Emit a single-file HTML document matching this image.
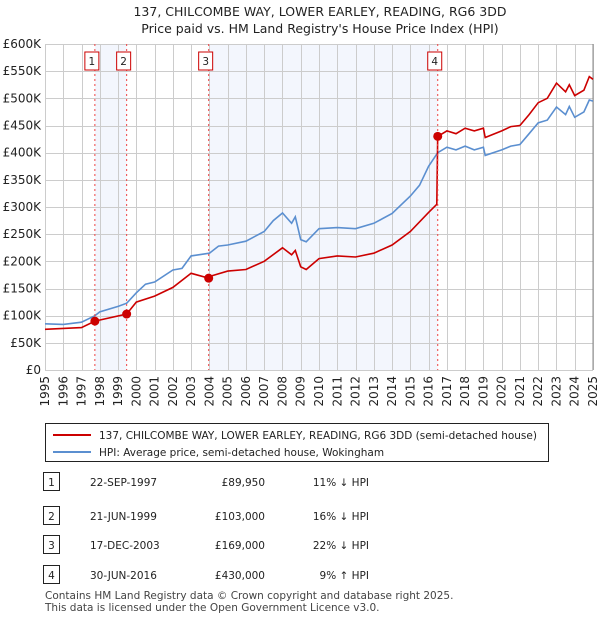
<!DOCTYPE html>
<html><head><meta charset="utf-8"><style>
body{margin:0;background:#fff;font-family:"Liberation Sans","DejaVu Sans",sans-serif;}
</style></head><body>
<svg id="c" width="600" height="620" xmlns="http://www.w3.org/2000/svg" font-family="DejaVu Sans, Liberation Sans, sans-serif">
<text x="320" y="16" text-anchor="middle" font-size="12.5" fill="#222">137, CHILCOMBE WAY, LOWER EARLEY, READING, RG6 3DD</text>
<text x="320" y="33" text-anchor="middle" font-size="12.5" fill="#222">Price paid vs. HM Land Registry's House Price Index (HPI)</text>
<g id="shade"></g><g id="grid"></g><g id="axes"></g><g id="lines"></g><g id="marks"></g>
<g>
<rect x="45.5" y="423.5" width="503" height="38" fill="#fff" stroke="#222"/>
<line x1="53" y1="435" x2="91" y2="435" stroke="#cc0000" stroke-width="2"/>
<text x="99" y="439" font-size="10.5" fill="#222">137, CHILCOMBE WAY, LOWER EARLEY, READING, RG6 3DD (semi-detached house)</text>
<line x1="53" y1="452" x2="91" y2="452" stroke="#5b8fd0" stroke-width="2"/>
<text x="99" y="456" font-size="10.5" fill="#222">HPI: Average price, semi-detached house, Wokingham</text>
</g>
<g id="table" font-size="10.5" fill="#222"></g>
<text x="45" y="599" font-size="10.5" fill="#444">Contains HM Land Registry data © Crown copyright and database right 2025.</text>
<text x="45" y="611" font-size="10.5" fill="#444">This data is licensed under the Open Government Licence v3.0.</text>
</svg>
<script>
const hpiYears=[1995,1996,1997,1997.73,1998,1999,1999.47,2000,2000.5,2001,2002,2002.5,2003,2004,2004.5,2005,2006,2007,2007.5,2008,2008.5,2008.7,2009,2009.3,2010,2011,2012,2013,2014,2015,2015.5,2016,2016.5,2017,2017.5,2018,2018.5,2019,2019.1,2020,2020.5,2021,2021.5,2022,2022.5,2023,2023.5,2023.7,2024,2024.5,2024.8,2025];
const hpiValues=[85000,84000,88000,100000,107000,117000,123000,142000,158000,162000,184000,187000,210000,215000,228000,230000,237000,255000,275000,289000,270000,282000,240000,236000,260000,262000,260000,270000,288000,320000,340000,375000,400000,410000,405000,412000,405000,410000,395000,405000,412000,415000,435000,455000,460000,484000,470000,485000,465000,475000,497000,495000];
const priceYears=[1995,1997,1997.73,1999.47,2000,2001,2002,2003,2003.96,2004,2005,2006,2007,2008,2008.5,2008.7,2009,2009.3,2010,2011,2012,2013,2014,2015,2016,2016.45,2016.5,2017,2017.5,2018,2018.5,2019,2019.1,2020,2020.5,2021,2021.5,2022,2022.5,2023,2023.5,2023.7,2024,2024.5,2024.8,2025];
const priceValues=[75000,78000,90000,103000,125000,136000,152000,178000,169000,172000,182000,185000,200000,225000,212000,220000,190000,185000,205000,210000,208000,215000,230000,255000,290000,305000,430000,440000,435000,445000,440000,445000,428000,440000,448000,450000,470000,492000,500000,528000,512000,525000,505000,515000,540000,535000];
const saleLabels=["1","2","3","4"];
const saleYears=[1997.73,1999.47,2003.96,2016.5];
const salePrices=[89950,103000,169000,430000];
const saleDates=["22-SEP-1997","21-JUN-1999","17-DEC-2003","30-JUN-2016"];
const salePriceText=["£89,950","£103,000","£169,000","£430,000"];
const saleHpiText=["11% ↓ HPI","16% ↓ HPI","22% ↓ HPI","9% ↑ HPI"];
const yTicks=[0,50000,100000,150000,200000,250000,300000,350000,400000,450000,500000,550000,600000];
const yTickLabels=["£0","£50K","£100K","£150K","£200K","£250K","£300K","£350K","£400K","£450K","£500K","£550K","£600K"];
const xTicks=[1995,1996,1997,1998,1999,2000,2001,2002,2003,2004,2005,2006,2007,2008,2009,2010,2011,2012,2013,2014,2015,2016,2017,2018,2019,2020,2021,2022,2023,2024,2025];

const X0=45,X1=593,Y0=370,Y1=44;
const sx=y=>X0+(y-1995)/30*(X1-X0);
const sy=v=>Y0-v/600000*(Y0-Y1);
const NS="http://www.w3.org/2000/svg";
function mk(p,tag,at){const e=document.createElementNS(NS,tag);for(const k in at)e.setAttribute(k,at[k]);document.getElementById(p).appendChild(e);return e;}

for(let i=0;i<saleYears.length;i+=2){
  const r=mk('shade','rect',{x:sx(saleYears[i]),y:Y1,width:sx(saleYears[i+1])-sx(saleYears[i]),height:Y0-Y1,fill:'#f3f6fd'});
  
  
}
yTicks.forEach((v,i)=>{
  const yy=Math.round(sy(v))+0.5;
  const l=mk('grid','line',{x1:X0,x2:X1,y1:yy,y2:yy,stroke:'#cccccc','stroke-width':1});
  
  
  const t=mk('axes','text',{x:X0-4,y:sy(v)+4,'text-anchor':'end','font-size':12,fill:'#222'});
  t.textContent=yTickLabels[i];
  
  
});
xTicks.forEach(y=>{
  const xx=Math.round(sx(y))+0.5;
  const l=mk('grid','line',{x1:xx,x2:xx,y1:Y1,y2:Y0,stroke:'#cccccc','stroke-width':1});
  
  
  const t=mk('axes','text',{x:0,y:0,transform:`translate(${sx(y)+4},${Y0+6}) rotate(-90)`,'text-anchor':'end','font-size':12,fill:'#222'});
  t.textContent=y;
  
  
});
const ax=mk('axes','line',{x1:X1,x2:X1,y1:Y1,y2:Y0,stroke:'#888'});



function path(xs,vs){return xs.map((x,i)=>(i?'L':'M')+sx(x).toFixed(1)+','+sy(vs[i]).toFixed(1)).join('');}
const h=mk('lines','path',{d:path(hpiYears,hpiValues),fill:'none',stroke:'#5b8fd0','stroke-width':1.6});


const p=mk('lines','path',{d:path(priceYears,priceValues),fill:'none',stroke:'#cc0000','stroke-width':1.6});



saleYears.forEach((y,i)=>{
  const l=mk('marks','line',{x1:sx(y),x2:sx(y),y1:Y1,y2:Y0,stroke:'#ee4444','stroke-width':1,'stroke-dasharray':'2,3'});
  
  
  const c=mk('marks','circle',{cx:sx(y),cy:sy(salePrices[i]),r:4.5,fill:'#cc0000'});
  
  
  const bx=sx(y)-3-7;
  const r=mk('marks','rect',{x:bx,y:52,width:14,height:18,fill:'#fff',stroke:'#cc0000'});
  
  
  const t=mk('marks','text',{x:bx+7,y:65,'text-anchor':'middle','font-size':10.5,fill:'#222'});
  t.textContent=saleLabels[i];
  
  
});

const rowY=[482,516,545,575];
saleLabels.forEach((s,i)=>{
  const y=rowY[i];
  const r=mk('table','rect',{x:43.5,y:y-9.5,width:16,height:18,fill:'#fff',stroke:'#222'});
  
  
  const cells=[[51.5,s,'middle','table-index'],[90,saleDates[i],'start','table-date'],[265,salePriceText[i],'end','table-price'],[369,saleHpiText[i],'end','table-hpi-diff']];
  cells.forEach(cl=>{
    const t=mk('table','text',{x:cl[0],y:y+4,'text-anchor':cl[2],'font-size':10.5,fill:'#222'});
    t.textContent=cl[1];
    
    
  });
});
</script>
</body></html>
